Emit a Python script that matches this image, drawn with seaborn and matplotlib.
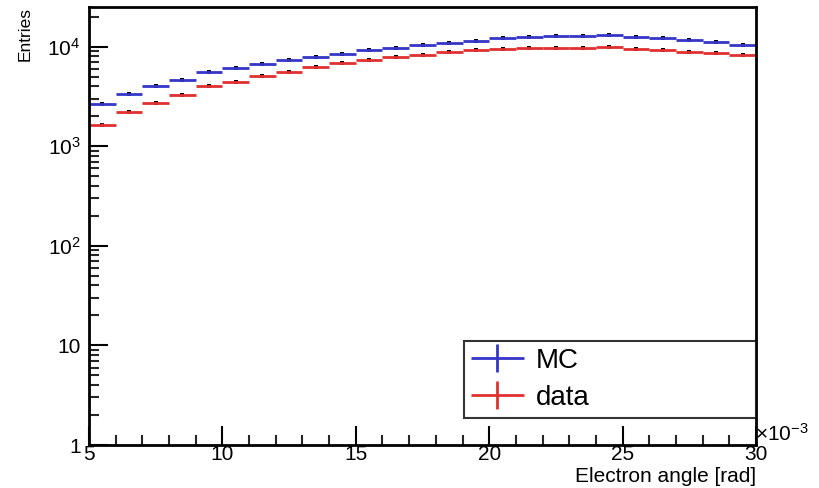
import numpy as np
import pandas as pd
import matplotlib
matplotlib.use("Agg")
import matplotlib.pyplot as plt
import matplotlib.ticker as mticker
import seaborn as sns
from matplotlib.legend_handler import HandlerErrorbar

# -----------------------------
# Data (bin edges in units of 1e-3 rad)
# -----------------------------
bin_low = list(range(5, 30))
mc_counts = [2650, 3310, 4050, 4650, 5500, 6030, 6720, 7300, 7890, 8510,
             9270, 9790, 10400, 10800, 11480, 12130, 12400, 12700, 12800, 13000,
             12600, 12130, 11670, 11140, 10470]
data_counts = [1650, 2190, 2740, 3260, 3980, 4370, 5090, 5540, 6210, 6810,
               7300, 7890, 8260, 8790, 9200, 9420, 9640, 9780, 9780, 10000,
               9480, 9330, 8910, 8710, 8260]
y_tick_vals = [1, 10, 100, 1000, 10000]
y_tick_labels = ["1", "10", "$10^2$", "$10^3$", "$10^4$"]
x_tick_vals = [5, 10, 15, 20, 25, 30]

df = pd.DataFrame({"low": bin_low, "MC": mc_counts, "data": data_counts})
df["center"] = df["low"] + 0.5

# -----------------------------
# Style
# -----------------------------
sns.set_style("white")
plt.rcParams["font.family"] = ["Liberation Sans", "DejaVu Sans"]
plt.rcParams["mathtext.fontset"] = "custom"
plt.rcParams["mathtext.rm"] = "Liberation Sans"
plt.rcParams["mathtext.it"] = "Liberation Sans"
plt.rcParams["text.color"] = "black"

fig = plt.figure(figsize=(8.2, 4.88), dpi=100)
ax = fig.add_axes([0.1085, 0.0881, 0.8135, 0.8976])

series = [("MC", "#3535c8"), ("data", "#e03030")]
for name, col in series:
    ax.errorbar(df["center"], df[name], xerr=0.5, yerr=np.sqrt(df[name]),
                fmt="none", ecolor=col, elinewidth=2, capsize=0, label=name)
    sns.scatterplot(x=df["center"], y=df[name], ax=ax, color="black",
                    marker="s", s=6, linewidth=0, legend=False)

ax.set_yscale("log")
ax.set_xlim(5, 30)
ax.set_ylim(1, 2.5e4)

ax.yaxis.set_major_locator(mticker.FixedLocator(y_tick_vals))
ax.yaxis.set_major_formatter(mticker.FixedFormatter(y_tick_labels))
ax.yaxis.set_minor_locator(mticker.LogLocator(base=10, subs=np.arange(2, 10)))
ax.yaxis.set_minor_formatter(mticker.NullFormatter())
ax.xaxis.set_major_locator(mticker.FixedLocator(x_tick_vals))
ax.xaxis.set_minor_locator(mticker.MultipleLocator(1))

ax.tick_params(axis="both", which="major", direction="in", length=14,
               width=1.5, labelsize=15, colors="black")
ax.tick_params(axis="both", which="minor", direction="in", length=7, width=1.5)
ax.tick_params(axis="y", which="both", left=True, right=False, pad=6)
ax.tick_params(axis="x", which="both", bottom=True, top=False, pad=0)

for sp in ax.spines.values():
    sp.set_linewidth(2)
    sp.set_color("black")

ax.set_xlabel("")
ax.set_ylabel("")
fig.text(0.031, 0.985, "Entries", rotation=90, ha="center", va="top", fontsize=12.5)
fig.text(0.922, 0.004, "Electron angle [rad]", ha="right", va="bottom", fontsize=15)
fig.text(0.921, 0.088, r"$\times 10^{-3}$", ha="left", va="bottom", fontsize=15)

leg = ax.legend(loc="lower left", bbox_to_anchor=(0.562, 0.062, 0.438, 0.189),
                mode="expand", fontsize=20, frameon=True, fancybox=False,
                borderpad=0.25, labelspacing=0.4, handlelength=1.9,
                handletextpad=0.45, borderaxespad=0, labelcolor="black",
                handler_map={matplotlib.container.ErrorbarContainer:
                             HandlerErrorbar(xerr_size=0.95, yerr_size=0.5)})
leg.get_frame().set_edgecolor("black")
leg.get_frame().set_linewidth(1.5)

fig.savefig("out.png", dpi=100)
